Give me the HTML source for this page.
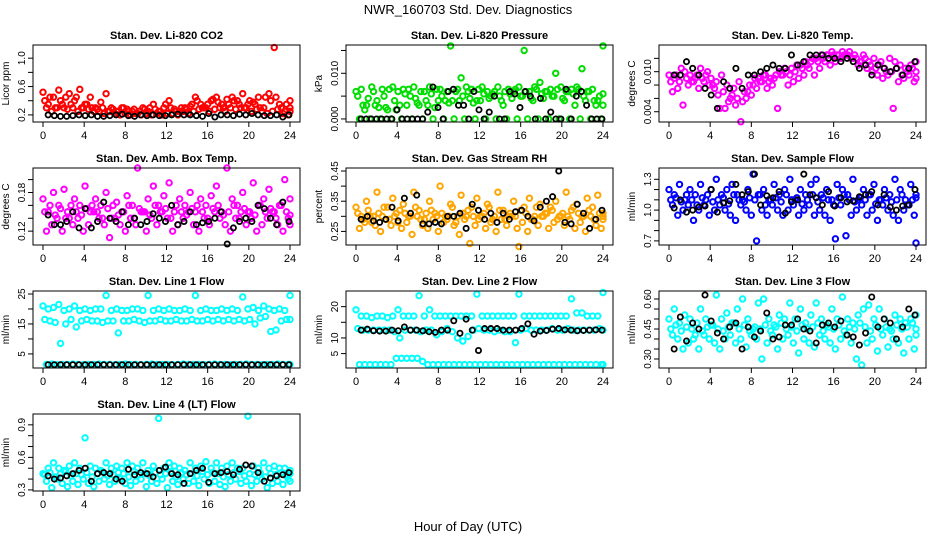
<!DOCTYPE html>
<html><head><meta charset="utf-8"><style>
body{margin:0;background:#fff;}
svg{display:block;font-family:"Liberation Sans",sans-serif;}
</style></head><body>
<svg id="chart" width="936" height="540">
<text x="468" y="14" text-anchor="middle" font-size="13">NWR_160703  Std. Dev. Diagnostics</text>
<text x="468" y="531" text-anchor="middle" font-size="13">Hour of Day (UTC)</text>
</svg>
<script>
// ---- data ----
const hourTicks=[0,4,8,12,16,20,24];
const co2Main=[0.52,0.35,0.45,0.55,0.3,0.5,0.4,0.56,0.35,0.45,0.3,0.38,0.5,0.3,0.25,0.3,0.28,0.25,0.22,0.3,0.25,0.35,0.25,0.3,0.4,0.28,0.25,0.3,0.32,0.45,0.35,0.3,0.4,0.45,0.35,0.42,0.45,0.4,0.5,0.35,0.38,0.45,0.3,0.5,1.15,0.35,0.25,0.4];
const co2Mid=[0.4,0.45,0.3,0.4,0.45,0.35,0.45,0.3,0.35,0.3,0.28,0.3,0.25,0.28,0.25,0.3,0.25,0.28,0.25,0.28,0.3,0.28,0.25,0.35,0.3,0.25,0.3,0.28,0.35,0.4,0.3,0.35,0.42,0.38,0.3,0.35,0.4,0.35,0.3,0.4,0.35,0.3,0.45,0.4,0.45,0.3,0.35,0.3];
const co2Low=[0.3,0.25,0.3,0.35,0.28,0.3,0.25,0.3,0.28,0.25,0.25,0.22,0.25,0.22,0.2,0.22,0.2,0.22,0.2,0.22,0.2,0.22,0.2,0.22,0.22,0.2,0.25,0.22,0.25,0.28,0.3,0.25,0.28,0.3,0.25,0.3,0.28,0.3,0.3,0.25,0.28,0.25,0.22,0.25,0.28,0.22,0.2,0.25];
const co2Ref=[0.2,0.19,0.18,0.18,0.19,0.2,0.19,0.2,0.18,0.18,0.19,0.2,0.21,0.19,0.18,0.2,0.19,0.2,0.19,0.19,0.2,0.21,0.2,0.2,0.19,0.18,0.22,0.17,0.2,0.2,0.19,0.21,0.2,0.22,0.2,0.19,0.19,0.2,0.17,0.2];
const presMain=[0.006,0.0065,0.003,0.007,0.004,0.0065,0.002,0.007,0.006,0.0065,0.0065,0.007,0.003,0.006,0.007,0.0025,0.0065,0.004,0.016,0.006,0.009,0.007,0.0065,0.004,0.007,0.006,0.0055,0.007,0.003,0.0065,0.006,0.007,0.015,0.006,0.007,0.008,0.006,0.0065,0.01,0.007,0.006,0.0065,0.007,0.011,0.006,0.0065,0.004,0.016];
const presMid=[0.005,0.003,0.0045,0.006,0.0025,0.005,0.0065,0.004,0.003,0.0055,0.005,0.0045,0.006,0.004,0.0055,0.0065,0.005,0.006,0.004,0.0065,0.005,0.006,0.0035,0.0065,0.0055,0.0045,0.006,0.005,0.006,0.0055,0.0065,0.005,0.006,0.0045,0.0065,0.0055,0.006,0.005,0.0065,0.0045,0.006,0.0055,0.0065,0.005,0.006,0.004,0.005,0.0055];
const presLow=[0,0.002,0,0.003,0,0.0025,0,0.002,0,0.003,0,0.0035,0,0.003,0,0.004,0,0.0035,0,0.004,0,0.0045,0,0.004,0,0.005,0,0.004,0,0.0045,0,0.005,0,0.004,0,0.0045,0,0.005,0,0.004,0,0.003,0,0.004,0,0.003,0,0.003];
const presRef=[0,0,0,0,0,0,0,0.002,0,0,0,0,0,0.0015,0.007,0.0025,0,0.006,0.0065,0.003,0.003,0,0.006,0.002,0,0.0015,0.005,0,0,0.006,0.0055,0.0025,0.006,0.005,0,0.0045,0,0.0015,0,0,0.0065,0,0.005,0.006,0.003,0,0,0];
const tempMain=[0.0095,0.009,0.0085,0.01,0.0095,0.009,0.0105,0.0095,0.009,0.0085,0.0095,0.008,0.0065,0.006,0.0055,0.007,0.008,0.009,0.0095,0.0085,0.009,0.01,0.0105,0.0095,0.01,0.011,0.0115,0.0115,0.012,0.0125,0.0125,0.013,0.0125,0.013,0.0125,0.012,0.011,0.0125,0.0115,0.012,0.011,0.0105,0.012,0.0115,0.011,0.0105,0.011,0.0115];
const tempMid=[0.0085,0.0095,0.0105,0.009,0.0085,0.0095,0.009,0.01,0.008,0.0065,0.007,0.0055,0.0075,0.0085,0.007,0.008,0.009,0.0085,0.0095,0.009,0.0095,0.0095,0.01,0.0105,0.011,0.0105,0.011,0.012,0.0115,0.012,0.0125,0.0125,0.0125,0.0125,0.013,0.0125,0.0115,0.012,0.011,0.0105,0.0115,0.01,0.01,0.0105,0.0095,0.01,0.0105,0.01];
const tempLow=[0.007,0.0075,0.005,0.008,0.0085,0.0075,0.0085,0.008,0.0075,0.0045,0.0045,0.006,0.005,0.0025,0.006,0.0065,0.0075,0.0085,0.0075,0.008,0.0045,0.0095,0.008,0.0085,0.009,0.0095,0.0105,0.0095,0.0105,0.0115,0.011,0.0115,0.012,0.0125,0.012,0.012,0.0115,0.0105,0.01,0.0095,0.009,0.0095,0.0045,0.0085,0.009,0.0095,0.0085,0.009];
const tempRef=[0.0095,0.0095,0.0115,0.0105,0.0095,0.0075,0.0065,0.0045,0.0085,0.0075,0.0105,0.0075,0.0095,0.0095,0.01,0.0105,0.011,0.0105,0.0105,0.0125,0.011,0.0115,0.0125,0.0125,0.0125,0.012,0.012,0.0115,0.012,0.0115,0.0105,0.011,0.0095,0.011,0.0105,0.01,0.0105,0.0095,0.0105,0.0115];
const ambMain=[0.17,0.15,0.18,0.16,0.185,0.14,0.17,0.16,0.19,0.15,0.17,0.16,0.18,0.14,0.165,0.15,0.175,0.16,0.218,0.15,0.17,0.19,0.16,0.175,0.195,0.15,0.17,0.16,0.18,0.15,0.17,0.16,0.175,0.19,0.15,0.218,0.17,0.16,0.18,0.15,0.195,0.16,0.17,0.185,0.15,0.16,0.2,0.17];
const ambMid=[0.15,0.16,0.145,0.155,0.14,0.16,0.15,0.145,0.155,0.16,0.15,0.14,0.155,0.16,0.145,0.15,0.16,0.14,0.155,0.15,0.145,0.16,0.15,0.155,0.14,0.16,0.15,0.145,0.155,0.16,0.15,0.14,0.155,0.16,0.145,0.15,0.16,0.14,0.155,0.15,0.145,0.16,0.15,0.155,0.14,0.16,0.15,0.145];
const ambLow=[0.12,0.13,0.14,0.12,0.15,0.13,0.14,0.12,0.13,0.15,0.14,0.13,0.11,0.14,0.13,0.12,0.14,0.13,0.15,0.12,0.14,0.13,0.15,0.14,0.12,0.13,0.14,0.15,0.13,0.12,0.14,0.13,0.15,0.14,0.13,0.12,0.14,0.15,0.13,0.14,0.12,0.13,0.14,0.15,0.13,0.12,0.14,0.13];
const ambRef=[0.145,0.13,0.13,0.135,0.15,0.125,0.155,0.125,0.135,0.165,0.14,0.135,0.15,0.13,0.14,0.13,0.135,0.147,0.14,0.135,0.16,0.13,0.135,0.15,0.13,0.133,0.135,0.14,0.15,0.1,0.125,0.135,0.14,0.135,0.16,0.155,0.14,0.13,0.165,0.135];
const rhMain=[0.33,0.3,0.35,0.28,0.38,0.3,0.33,0.36,0.28,0.34,0.3,0.38,0.32,0.29,0.35,0.31,0.4,0.3,0.34,0.28,0.37,0.3,0.33,0.36,0.3,0.34,0.29,0.38,0.32,0.3,0.35,0.2,0.33,0.36,0.3,0.34,0.31,0.33,0.35,0.3,0.38,0.32,0.34,0.3,0.36,0.33,0.37,0.31];
const rhMid=[0.31,0.29,0.32,0.3,0.31,0.33,0.29,0.3,0.32,0.31,0.3,0.33,0.29,0.31,0.32,0.3,0.31,0.29,0.33,0.3,0.31,0.32,0.3,0.29,0.31,0.33,0.3,0.32,0.29,0.31,0.3,0.32,0.31,0.29,0.33,0.3,0.31,0.32,0.29,0.31,0.3,0.33,0.31,0.3,0.32,0.29,0.31,0.3];
const rhLow=[0.26,0.28,0.3,0.27,0.25,0.29,0.27,0.31,0.26,0.28,0.24,0.3,0.27,0.26,0.29,0.25,0.28,0.3,0.27,0.24,0.29,0.21,0.27,0.3,0.26,0.28,0.25,0.29,0.27,0.3,0.26,0.28,0.25,0.29,0.27,0.3,0.26,0.28,0.3,0.27,0.29,0.26,0.28,0.25,0.3,0.27,0.26,0.29];
const rhRef=[0.29,0.3,0.285,0.28,0.29,0.33,0.285,0.36,0.31,0.37,0.275,0.275,0.28,0.275,0.3,0.3,0.31,0.26,0.34,0.32,0.29,0.31,0.28,0.31,0.29,0.315,0.32,0.3,0.285,0.33,0.35,0.365,0.45,0.28,0.275,0.34,0.31,0.26,0.29,0.32];
const flowMain=[1.2,1.15,1.25,1.1,1.2,1.15,1.25,1.1,1.2,1.3,1.15,1.2,1.25,1.15,1.1,1.2,1.35,1.15,1.2,1.1,1.25,1.15,1.2,1.3,1.1,1.2,1.15,1.25,1.3,1.15,1.2,1.1,1.25,1.2,1.15,1.3,1.1,1.2,1.15,1.25,1.1,1.2,1.15,1.3,1.2,1.1,1.25,1.15];
const flowMid=[1.1,1.12,1.08,1.15,1.1,1.05,1.12,1.15,1.08,1.1,1.12,1.06,1.15,1.1,1.08,1.12,1.1,1.15,1.05,1.1,1.12,1.08,1.15,1.1,1.12,1.06,1.1,1.15,1.08,1.12,1.1,1.05,1.12,1.15,1.1,1.08,1.12,1.1,1.15,1.06,1.1,1.12,1.08,1.1,1.15,1.05,1.1,1.12];
const flowLow=[1.05,0.95,1.0,1.05,0.9,1.0,1.05,0.95,1.0,1.05,1.0,0.95,0.9,1.05,1.0,0.95,0.7,1.0,0.95,1.05,1.0,0.95,1.0,1.05,0.95,1.0,1.05,0.95,1.0,0.95,0.9,0.72,1.05,0.75,0.95,1.0,1.05,0.95,1.0,0.9,1.05,1.0,0.95,0.9,1.0,1.05,0.95,0.68];
const flowRef=[1.02,1.1,0.98,1.0,1.03,1.04,1.2,0.98,1.07,1.09,1.25,1.15,1.18,1.35,1.05,1.14,1.12,1.18,0.97,1.08,1.1,1.35,1.15,1.12,1.05,1.18,1.04,1.12,1.08,1.09,1.13,1.15,1.18,1.05,1.15,1.03,1.0,1.04,1.05,1.2];
const l1Upper=[21,20,20.5,21.5,19.5,20,21,19.5,20,19.5,20,20,24.5,19.5,20,19.5,19.5,20,20,19.5,24.5,19.5,20,19.5,20,19.5,19.5,20,19.5,24.5,19.5,20,19.5,19.5,20,19.5,20,19.5,24,20,20.5,19.5,21,20,19.5,20,19.5,24.5];
const l1Lower=[16.5,16,15.5,8.5,15,16.5,14,16,16.5,16,16,15.5,16,16,12,16,16,16.5,16,15.5,16,16,16.5,16,16,16.5,16,16,16.5,16,16,16.5,16,16.5,16,16.5,16,16.5,16,16.5,15,17,17.5,12.5,13,16,16.5,16.5];
const l1Base=[1.5,1.6,1.4,1.5,1.5,1.6,1.5,1.4,1.5,1.5,1.6,1.5,1.5,1.4,1.5,1.6,1.5,1.5,1.4,1.5,1.6,1.5,1.5,1.5,1.4,1.5,1.6,1.5,1.5,1.5,1.4,1.5,1.6,1.5,1.5,1.4,1.5,1.5,1.6,1.5,1.5,1.4,1.5,1.5,1.6,1.5,1.5,1.5];
const l1Ref=[1.4,1.4,1.4,1.4,1.4,1.4,1.4,1.4,1.4,1.4,1.4,1.4,1.4,1.4,1.4,1.4,1.4,1.4,1.4,1.4,1.4,1.4,1.4,1.4,1.4,1.4,1.4,1.4,1.4,1.4,1.4,1.4,1.4,1.4,1.4,1.4,1.4,1.4,1.4,1.4];
const l2Upper=[19,17,17,16.5,17,17,16.5,17,19,17,17,17,23.5,17,19,17,17,17,17,17,17,17,17,24,17,17,17,17,17,17,17,24,17,17,17,17,17,17,17,17,17,22.5,18,18,17,17,17,24.5];
const l2Mid=[13,12.5,12.5,12.5,12.5,12.5,12.5,12,10,12.5,12.5,12.5,12,12.5,12.5,11,12,13,12,10,9,10.5,12.5,13,12.5,12.5,12,12.5,12,12,8.5,12.5,13,12.5,12.5,12.5,12.5,13,12.5,12.5,13,12.5,12.5,12.5,12.5,12.5,13,12.5];
const l2Base=[1.5,1.5,1.5,1.5,1.5,1.5,1.5,3.5,3.5,3.5,3.5,3.5,2.5,1.5,1.5,1.5,1.5,1.5,1.5,1.5,1.5,1.5,1.5,1.5,1.5,1.5,1.5,1.5,1.5,1.5,1.5,1.5,1.5,1.5,1.5,1.5,1.5,1.5,1.5,1.5,1.5,1.5,1.5,1.5,1.5,1.5,1.5,1.5];
const l2Ref=[12.5,12.8,12.3,12.2,12.2,12.5,12.3,13.5,12.5,12.5,12.3,12.0,11.8,12.5,12.5,15.5,11.5,16,12.5,6,13,13,13,12.5,12.5,12.5,13,14.5,11.2,12.2,12.4,12.8,13,12.6,12.5,12.3,12.4,12.5,12.6,12.5];
const l3Main=[0.5,0.55,0.48,0.52,0.5,0.42,0.55,0.5,0.47,0.62,0.5,0.53,0.48,0.55,0.6,0.5,0.45,0.58,0.6,0.5,0.47,0.52,0.5,0.58,0.5,0.55,0.48,0.52,0.58,0.5,0.47,0.55,0.5,0.61,0.5,0.48,0.52,0.55,0.57,0.5,0.55,0.5,0.45,0.52,0.5,0.48,0.5,0.52];
const l3Mid=[0.45,0.47,0.44,0.46,0.45,0.48,0.44,0.46,0.47,0.45,0.44,0.46,0.48,0.45,0.47,0.44,0.46,0.45,0.47,0.44,0.46,0.48,0.45,0.46,0.44,0.47,0.45,0.46,0.48,0.44,0.46,0.45,0.47,0.44,0.46,0.45,0.48,0.46,0.44,0.47,0.45,0.46,0.44,0.47,0.45,0.46,0.48,0.45];
const l3Low=[0.42,0.4,0.35,0.38,0.4,0.35,0.42,0.4,0.38,0.35,0.4,0.42,0.38,0.4,0.36,0.42,0.4,0.3,0.38,0.42,0.35,0.4,0.42,0.38,0.33,0.4,0.38,0.36,0.42,0.4,0.38,0.35,0.4,0.42,0.38,0.3,0.27,0.38,0.4,0.34,0.42,0.36,0.4,0.38,0.33,0.4,0.35,0.42];
const l3Ref=[0.35,0.51,0.39,0.48,0.45,0.62,0.49,0.43,0.4,0.46,0.48,0.35,0.46,0.41,0.44,0.53,0.4,0.41,0.47,0.47,0.5,0.45,0.44,0.38,0.47,0.48,0.46,0.49,0.42,0.41,0.37,0.43,0.61,0.46,0.5,0.48,0.4,0.46,0.55,0.52];
const l4Main=[0.45,0.5,0.55,0.5,0.48,0.52,0.55,0.5,0.78,0.52,0.5,0.48,0.55,0.5,0.52,0.5,0.55,0.52,0.5,0.55,0.48,0.52,0.96,0.5,0.55,0.52,0.5,0.48,0.55,0.5,0.52,0.56,0.5,0.55,0.5,0.52,0.55,0.5,0.5,0.98,0.52,0.5,0.55,0.5,0.52,0.5,0.5,0.48];
const l4Mid=[0.44,0.46,0.42,0.45,0.47,0.43,0.45,0.44,0.46,0.42,0.45,0.47,0.43,0.44,0.46,0.45,0.42,0.47,0.44,0.45,0.43,0.46,0.44,0.45,0.47,0.42,0.46,0.44,0.45,0.43,0.47,0.44,0.46,0.45,0.42,0.44,0.46,0.47,0.43,0.45,0.44,0.46,0.42,0.45,0.44,0.46,0.43,0.45];
const l4Low=[0.38,0.32,0.4,0.36,0.33,0.38,0.35,0.4,0.36,0.33,0.38,0.4,0.35,0.38,0.4,0.36,0.34,0.38,0.4,0.33,0.38,0.36,0.4,0.32,0.38,0.35,0.4,0.36,0.38,0.34,0.4,0.36,0.38,0.35,0.33,0.38,0.4,0.36,0.38,0.34,0.38,0.4,0.32,0.36,0.38,0.35,0.4,0.38];
const l4Ref=[0.43,0.4,0.41,0.43,0.45,0.48,0.5,0.38,0.45,0.46,0.45,0.4,0.38,0.49,0.44,0.46,0.45,0.42,0.48,0.51,0.45,0.44,0.36,0.45,0.48,0.5,0.37,0.45,0.46,0.47,0.44,0.49,0.53,0.52,0.46,0.38,0.41,0.43,0.44,0.46];

const panels=[
 {name:'co2',title:'Stan. Dev. Li-820 CO2',yt:'Licor ppm',col:0,row:0,ymin:0.1,ymax:1.186,ticks:[0.2,0.4,0.6,0.8,1.0],labels:['0.2','0.6','1.0'],color:'#ff0000',series:[co2Main,co2Mid,co2Low],ref:co2Ref},
 {name:'pressure',title:'Stan. Dev. Li-820 Pressure',yt:'kPa',col:1,row:0,ymin:-0.00067,ymax:0.0162,ticks:[0,0.005,0.01,0.015],labels:['0.000','0.010'],color:'#00dd00',series:[presMain,presMid,presLow],ref:presRef},
 {name:'temp',title:'Stan. Dev. Li-820 Temp.',yt:'degrees C',col:2,row:0,ymin:0.00246,ymax:0.014,ticks:[0.004,0.006,0.008,0.010,0.012],labels:['0.004','0.010'],color:'#ff00ff',series:[tempMain,tempMid,tempLow],ref:tempRef},
 {name:'ambbox',title:'Stan. Dev. Amb. Box Temp.',yt:'degrees C',col:0,row:1,ymin:0.0985,ymax:0.218,ticks:[0.12,0.14,0.16,0.18,0.2],labels:['0.12','0.18'],color:'#ff00ff',series:[ambMain,ambMid,ambLow],ref:ambRef},
 {name:'rh',title:'Stan. Dev. Gas Stream RH',yt:'percent',col:1,row:1,ymin:0.205,ymax:0.46,ticks:[0.25,0.3,0.35,0.4,0.45],labels:['0.25','0.35','0.45'],color:'#ffa500',series:[rhMain,rhMid,rhLow],ref:rhRef},
 {name:'sampleflow',title:'Stan. Dev. Sample Flow',yt:'ml/min',col:2,row:1,ymin:0.66,ymax:1.41,ticks:[0.7,0.8,0.9,1.0,1.1,1.2,1.3],labels:['0.7','1.0','1.3'],color:'#0000ff',series:[flowMain,flowMid,flowLow],ref:flowRef},
 {name:'line1',title:'Stan. Dev. Line 1 Flow',yt:'ml/min',col:0,row:2,ymin:0.3,ymax:26,ticks:[5,10,15,20,25],labels:['5','15','25'],color:'#00ffff',series:[l1Upper,l1Lower,l1Base],ref:l1Ref},
 {name:'line2',title:'Stan. Dev. Line 2 Flow',yt:'ml/min',col:1,row:2,ymin:0.4,ymax:25,ticks:[5,10,15,20],labels:['5','10','20'],color:'#00ffff',series:[l2Upper,l2Mid,l2Base],ref:l2Ref},
 {name:'line3',title:'Stan. Dev. Line 3 Flow',yt:'ml/min',col:2,row:2,ymin:0.255,ymax:0.64,ticks:[0.3,0.35,0.4,0.45,0.5,0.55,0.6],labels:['0.30','0.45','0.60'],color:'#00ffff',series:[l3Main,l3Mid,l3Low],ref:l3Ref},
 {name:'line4',title:'Stan. Dev. Line 4 (LT) Flow',yt:'ml/min',col:0,row:3,ymin:0.29,ymax:1.0,ticks:[0.3,0.4,0.5,0.6,0.7,0.8,0.9],labels:['0.3','0.6','0.9'],color:'#00ffff',series:[l4Main,l4Mid,l4Low],ref:l4Ref}
];

const NS='http://www.w3.org/2000/svg';
const svg=document.getElementById('chart');
const colL=[33,346,659], rowT=[45,168,291,414], W=267, H=77;
function mk(tag,attrs,parent){const e=document.createElementNS(NS,tag);for(const k in attrs)e.setAttribute(k,attrs[k]);parent.appendChild(e);return e;}

panels.forEach(p=>{
  const L=colL[p.col], T=rowT[p.row];
  const xs=h=>L+10+h*(W-20)/24;
  const ys=v=>T+H-(v-p.ymin)/(p.ymax-p.ymin)*H;
  const g=mk('g',{},svg);
  
  
  const t=mk('text',{x:L+W/2,y:T-6,'text-anchor':'middle','font-size':11,'font-weight':'bold'},g);
  t.textContent=p.title;
  
  
  const pts=mk('g',{fill:'none','stroke-width':2},g);
  
  
  p.series.forEach((arr,k)=>{
    arr.forEach((v,i)=>{
      const h=Math.min(24,i*24/(arr.length-1)+k*0.17);
      const c=mk('circle',{cx:xs(h),cy:ys(v),r:2.7,stroke:p.color},pts);
      
      
    });
  });
  const refg=mk('g',{fill:'none','stroke-width':1.8},g);
  
  
  p.ref.forEach((v,i)=>{
    const c=mk('circle',{cx:xs(0.5+i*23.4/(p.ref.length-1)),cy:ys(v),r:2.6,stroke:'#000'},refg);
    
    
  });
  const box=mk('rect',{x:L,y:T,width:W,height:H,fill:'none',stroke:'#000','stroke-width':1},g);
  
  
  const xa=mk('g',{stroke:'#000','stroke-width':1},g);
  
  
  mk('line',{x1:xs(0),x2:xs(24),y1:T+H,y2:T+H},xa);
  hourTicks.forEach(h=>{
    mk('line',{x1:xs(h),x2:xs(h),y1:T+H,y2:T+H+5},xa);
    const lt=mk('text',{x:xs(h),y:T+H+17,'text-anchor':'middle','font-size':11,stroke:'none',fill:'#000'},xa);
    lt.textContent=h;
    
    
  });
  const ya=mk('g',{stroke:'#000','stroke-width':1},g);
  
  
  mk('line',{x1:L,x2:L,y1:ys(p.ticks[0]),y2:ys(p.ticks[p.ticks.length-1])},ya);
  p.ticks.forEach(v=>mk('line',{x1:L-5,x2:L,y1:ys(v),y2:ys(v)},ya));
  p.labels.forEach(s=>{
    const y=ys(parseFloat(s));
    const lt=mk('text',{x:L-8,y:y,'text-anchor':'middle','font-size':10,stroke:'none',fill:'#000',transform:`rotate(-90 ${L-8} ${y})`},ya);
    lt.textContent=s;
    
    
  });
  const yt=mk('text',{x:L-24,y:T+H/2,'text-anchor':'middle','font-size':10,transform:`rotate(-90 ${L-24} ${T+H/2})`},g);
  yt.textContent=p.yt;
  
  
});
</script>
</body></html>
